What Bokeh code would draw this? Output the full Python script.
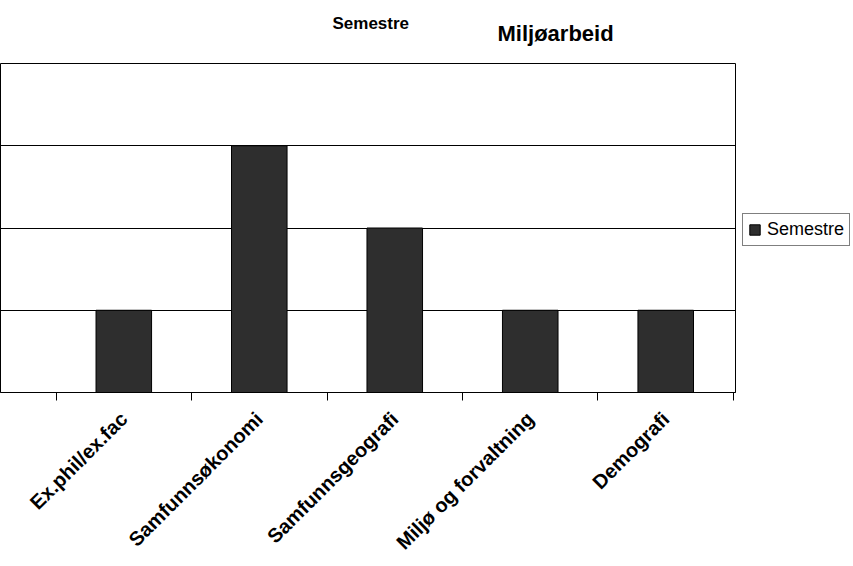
from math import pi
from bokeh.plotting import figure
from bokeh.models import ColumnDataSource, Range1d, FixedTicker, Title, Legend, LegendItem
from bokeh.embed import file_html
from bokeh.resources import INLINE

# ---- data ----
categories = ["Ex.phil/ex.fac", "Samfunnsøkonomi", "Samfunnsgeografi",
              "Miljø og forvaltning", "Demografi"]
semestre = [1, 3, 2, 1, 1]
grid_values = [1, 2, 3]
y_max = 4
title_text = "Miljøarbeid"
series_name = "Semestre"

idx = list(range(len(categories)))
src = ColumnDataSource(dict(x=idx, top=semestre, cat=categories))

FONT = "Liberation Sans"

p = figure(x_range=Range1d(-0.91, len(categories) - 0.485), y_range=Range1d(0, y_max),
           frame_width=735, frame_height=329,
           min_border_left=0, min_border_top=63, min_border_right=0, min_border_bottom=0,
           toolbar_location=None, output_backend="svg", title=None,
           y_axis_location=None, outline_line_color="black", outline_line_width=1,
           background_fill_color="white", border_fill_color="white")

r = p.vbar(x="x", top="top", width=0.41, source=src,
           fill_color="#2e2e2e", line_color="black", line_width=1)

# grid
p.xgrid.visible = False
p.ygrid.ticker = FixedTicker(ticks=grid_values)
p.ygrid.grid_line_color = "black"
p.ygrid.grid_line_width = 1

# x axis: boundary ticks as minor ticks, labels at centres
ax = p.xaxis[0]
ax.ticker = FixedTicker(ticks=idx, minor_ticks=[i - 0.5 for i in idx] + [idx[-1] + 0.5])
ax.major_label_overrides = {i: c for i, c in zip(idx, categories)}
ax.major_label_orientation = pi / 4
ax.major_label_text_font = FONT
ax.major_label_text_font_style = "bold"
ax.major_label_text_font_size = "20px"
ax.major_label_text_color = "black"
ax.major_tick_line_color = None
ax.major_tick_out = 8
ax.major_tick_in = 0
ax.major_label_standoff = 15
ax.minor_tick_line_color = "black"
ax.minor_tick_out = 8
ax.minor_tick_in = 0
ax.axis_line_color = "black"

# titles
p.add_layout(Title(text=title_text, align="left", offset=497, text_font=FONT,
                   text_font_style="bold", text_font_size="22px", text_color="black",
                   standoff=35), "above")
p.add_layout(Title(text=series_name, align="left", offset=332, text_font=FONT,
                   text_font_style="bold", text_font_size="17px", text_color="black",
                   standoff=-62), "above")

legend = Legend(items=[LegendItem(label=series_name, renderers=[r])],
                location=(7, 146), orientation="vertical",
                border_line_color="black", border_line_width=1,
                background_fill_color="white", background_fill_alpha=1,
                padding=5, margin=0, spacing=0,
                glyph_width=13, glyph_height=13, label_standoff=6,
                label_text_font=FONT, label_text_font_size="18px",
                label_text_color="black", label_height=20)
p.add_layout(legend, "right")

open("out.html", "w").write(file_html(p, INLINE))
